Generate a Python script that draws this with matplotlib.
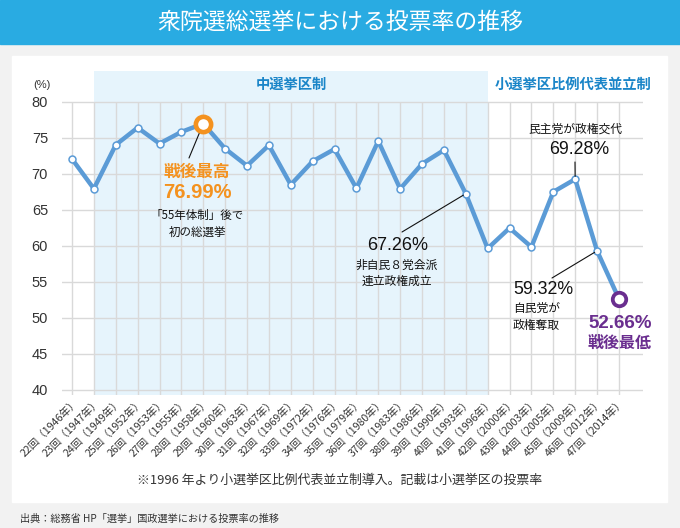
import matplotlib
matplotlib.use("Agg")
import matplotlib.pyplot as plt
from matplotlib.patches import Rectangle
from matplotlib.transforms import ScaledTranslation

plt.rcParams['font.family'] = ['Noto Sans CJK JP', 'DejaVu Sans']

# ---- data ----
sessions = ["22回", "23回", "24回", "25回", "26回", "27回", "28回", "29回", "30回",
            "31回", "32回", "33回", "34回", "35回", "36回", "37回", "38回", "39回",
            "40回", "41回", "42回", "43回", "44回", "45回", "46回", "47回"]
years = [1946, 1947, 1949, 1952, 1953, 1955, 1958, 1960, 1963, 1967, 1969, 1972,
         1976, 1979, 1980, 1983, 1986, 1990, 1993, 1996, 2000, 2003, 2005, 2009,
         2012, 2014]
turnout = [72.08, 67.95, 74.04, 76.43, 74.22, 75.84, 76.99, 73.51, 71.14, 73.99,
           68.51, 71.76, 73.45, 68.01, 74.57, 67.94, 71.40, 73.31, 67.26, 59.65,
           62.49, 59.86, 67.51, 69.28, 59.32, 52.66]
y_ticks = [40, 45, 50, 55, 60, 65, 70, 75, 80]
tick_labels = [f"{s}（{y}年）" for s, y in zip(sessions, years)]

W, H = 680, 528
fig = plt.figure(figsize=(W / 100, H / 100), dpi=100, facecolor='#f2f2f2')

def fx(x):
    return x / W

def fy(y):
    return 1 - y / H

# banner and panel
fig.patches.append(Rectangle((0, fy(44)), 1, 44 / H, transform=fig.transFigure,
                             color='#29abe2', zorder=-2))
fig.patches.append(Rectangle((fx(12), fy(502)), (667 - 12) / W, (502 - 56) / H,
                             transform=fig.transFigure, color='white', zorder=-2))
fig.text(0.5, fy(22), "衆院選総選挙における投票率の推移", color='white',
         fontsize=16.5, ha='center', va='center')

# axes
ax_left, ax_right, ax_top, ax_bot = 62, 643, 71, 395
ax = fig.add_axes([fx(ax_left), fy(ax_bot), (ax_right - ax_left) / W, (ax_bot - ax_top) / H])
ax.set_facecolor('none')
n = len(turnout)
xs = list(range(n))
ax.set_xlim(-0.457, 26.1)
ax.set_ylim(39.3, 84.3)
for s in ax.spines.values():
    s.set_visible(False)

ax.axvspan(1, 19, color='#e6f4fc', zorder=0, lw=0)
for t in y_ticks:
    ax.axhline(t, color='#d9d9d9', lw=1, zorder=1)
ax.vlines(xs, 39.3, 80, color='#d9d9d9', lw=1, zorder=1)

line_c = '#5b9bd6'
ax.plot(xs, turnout, color=line_c, lw=3.2, zorder=3, solid_joinstyle='round')
ax.plot(xs, turnout, 'o', ms=5, mfc='white', mec=line_c, mew=1.1, zorder=4)

orange = '#f4921f'
purple = '#6a2e8f'
i_max = turnout.index(max(turnout))
i_min = turnout.index(min(turnout))
ax.plot([i_max], [turnout[i_max]], 'o', ms=11, mfc='white', mec=orange, mew=3.3, zorder=6)
ax.plot([i_min], [turnout[i_min]], 'o', ms=9.7, mfc='white', mec=purple, mew=2.7, zorder=6)

ax.set_yticks(y_ticks)
ax.set_yticklabels([str(t) for t in y_ticks], family=['Liberation Sans', 'DejaVu Sans'],
                   fontsize=10.5, color='#333333')
ax.tick_params(axis='y', length=0, pad=10)
ax.set_xticks(xs)
ax.set_xticklabels(tick_labels, rotation=45, ha='right', va='center',
                   rotation_mode='anchor', fontsize=7.6, color='#333333')
ax.tick_params(axis='x', length=0, pad=4)
off = ScaledTranslation(5 / 100, 0, fig.dpi_scale_trans)
for lab in ax.get_xticklabels():
    lab.set_transform(lab.get_transform() + off)

fig.text(fx(33), fy(85), "(%)", fontsize=8, color='#333333', va='center', ha='left',
         family=['Liberation Sans', 'DejaVu Sans'])

# region labels
blue_lab = '#1a85c8'
fig.text(fx(291), fy(85), "中選挙区制", color=blue_lab, fontsize=10.3, fontweight='bold',
         ha='center', va='center')
fig.text(fx(573), fy(85), "小選挙区比例代表並立制", color=blue_lab, fontsize=10.3,
         fontweight='bold', ha='center', va='center')

num_font = ['Liberation Sans', 'Noto Sans CJK JP']

def leader(idx, x_px, y_px, shrink):
    ax.annotate('', xy=(idx, turnout[idx]), xycoords='data',
                xytext=(x_px, H - y_px), textcoords='figure pixels',
                arrowprops=dict(arrowstyle='-', color='#111111', lw=0.8,
                                shrinkA=0, shrinkB=shrink), zorder=5)

# max annotation
leader(i_max, 189, 158, 6)
fig.text(fx(197), fy(172), "戦後最高", color=orange, fontsize=12, fontweight='bold',
         ha='center', va='center')
fig.text(fx(197), fy(192), f"{turnout[i_max]:.2f}%", color=orange, fontsize=14.5,
         fontweight='bold', ha='center', va='center', family=num_font)
fig.text(fx(197), fy(215), "「55年体制」後で", color='#111111', fontsize=8.3,
         ha='center', va='center')
fig.text(fx(197), fy(232), "初の総選挙", color='#111111', fontsize=8.3,
         ha='center', va='center')

# 1993
i93 = years.index(1993)
leader(i93, 402, 232, 2)
fig.text(fx(398), fy(245), f"{turnout[i93]:.2f}%", color='#111111', fontsize=13,
         ha='center', va='center', family=num_font)
fig.text(fx(397), fy(265), "非自民８党会派", color='#111111', fontsize=8.5,
         ha='center', va='center')
fig.text(fx(397), fy(281), "連立政権成立", color='#111111', fontsize=8.5,
         ha='center', va='center')

# 2009
i09 = years.index(2009)
leader(i09, 575, 162, 2)
fig.text(fx(575), fy(129), "民主党が政権交代", color='#111111', fontsize=8.5,
         ha='center', va='center')
fig.text(fx(579), fy(149), f"{turnout[i09]:.2f}%", color='#111111', fontsize=12.8,
         ha='center', va='center', family=num_font)

# 2012
i12 = years.index(2012)
leader(i12, 552, 278, 2)
fig.text(fx(513), fy(289), f"{turnout[i12]:.2f}%", color='#111111', fontsize=12.8,
         ha='left', va='center', family=num_font)
fig.text(fx(513), fy(308), "自民党が", color='#111111', fontsize=8.5,
         ha='left', va='center')
fig.text(fx(513), fy(326), "政権奪取", color='#111111', fontsize=8.5,
         ha='left', va='center')

# min annotation
fig.text(fx(620), fy(323), f"{turnout[i_min]:.2f}%", color=purple, fontsize=13.5,
         fontweight='bold', ha='center', va='center', family=num_font)
fig.text(fx(620), fy(343), "戦後最低", color=purple, fontsize=11.5, fontweight='bold',
         ha='center', va='center')

# notes
fig.text(0.5, fy(480), "※1996 年より小選挙区比例代表並立制導入。記載は小選挙区の投票率",
         color='#333333', fontsize=9.3, ha='center', va='center')
fig.text(fx(20), fy(519), "出典：総務省 HP「選挙」国政選挙における投票率の推移",
         color='#333333', fontsize=7.3, ha='left', va='center')

fig.savefig("out.png", dpi=100, facecolor=fig.get_facecolor())
